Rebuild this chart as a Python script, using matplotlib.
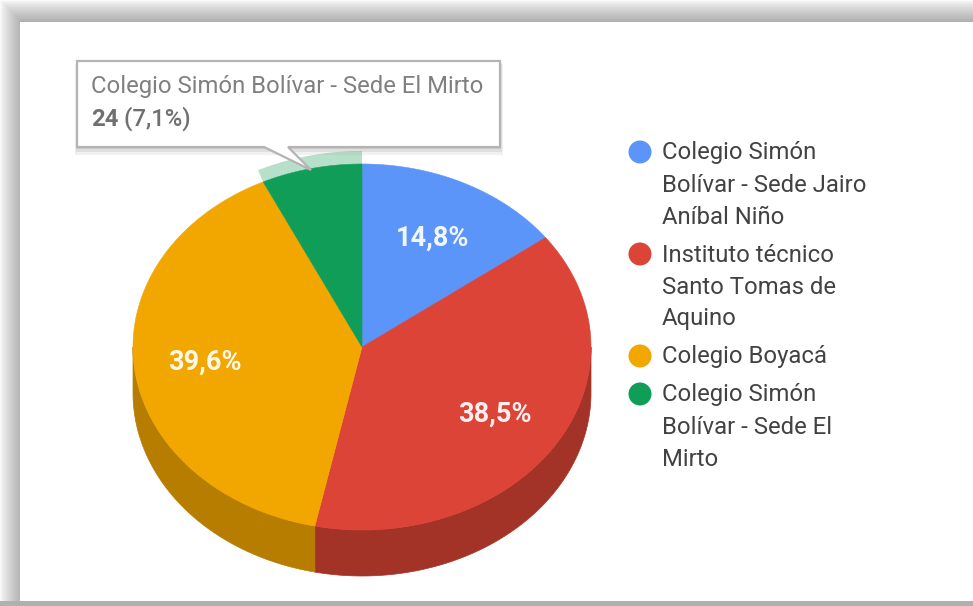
import numpy as np
import matplotlib
matplotlib.use("Agg")
import matplotlib.pyplot as plt
from matplotlib.patches import Polygon, Circle, Rectangle

plt.rcParams["font.family"] = ["Roboto", "DejaVu Sans"]

# data
schools = [
    "Colegio Simón\nBolívar - Sede Jairo\nAníbal Niño",
    "Instituto técnico\nSanto Tomas de\nAquino",
    "Colegio Boyacá",
    "Colegio Simón\nBolívar - Sede El\nMirto",
]
shares = [14.8, 38.5, 39.6, 7.1]
pct_labels = ["14,8%", "38,5%", "39,6%", ""]
tooltip_title = "Colegio Simón Bolívar - Sede El Mirto"
tooltip_value = "24"
tooltip_pct = " (7,1%)"

colors = ["#5b95f9", "#db4437", "#f2a600", "#0f9d58"]
dark_colors = ["#406aae", "#a33327", "#b77d00", "#0b6e3e"]

W, H = 973, 606
CX, CY = 362, 347
RX, RY = 229, 183
DEPTH = 46

fig = plt.figure(figsize=(W / 100, H / 100), dpi=100)
ax = fig.add_axes([0, 0, 1, 1])
ax.set_xlim(0, W)
ax.set_ylim(H, 0)
ax.axis("off")


def rim(a0, a1, rx=RX, ry=RY, dy=0):
    # angles in degrees clockwise from the top of the pie
    t = np.radians(np.linspace(a0, a1, 200))
    return np.column_stack([CX + rx * np.sin(t), CY - ry * np.cos(t) + dy])


# page frame with its soft shadow
band = 22
for i in range(band):
    g = 0.98 - 0.29 * (i / (band - 1)) ** 0.8
    ax.add_patch(Rectangle((i, i), W - i + 5, H - i + 5, fc=str(g), ec="none", zorder=0))
ax.add_patch(Rectangle((20, 22), W, 579, fc="white", ec="none", zorder=0.5))
ax.add_patch(Rectangle((0, 601), W, 6, fc="#b0b0b0", ec="none", zorder=0.6))

# cumulative angles
edges = np.concatenate([[0], np.cumsum(shares)]) / sum(shares) * 360

# side wall, only the part of the lower half that shows
for i in range(len(shares)):
    a0, a1 = max(edges[i], 90), min(edges[i + 1], 270)
    if a1 <= a0:
        continue
    top = rim(a0, a1)
    low = rim(a0, a1, dy=DEPTH)[::-1]
    ax.add_patch(Polygon(np.vstack([top, low]), fc=dark_colors[i], ec=dark_colors[i], lw=0.5, zorder=1))

# highlight ring of the hovered slice
outer = rim(edges[3], edges[4], RX + 12, RY + 13)
inner = rim(edges[3], edges[4])[::-1]
ax.add_patch(Polygon(np.vstack([outer, inner]), fc="#b7e0ca", ec="none", zorder=1))

# top face
for i in range(len(shares)):
    pts = np.vstack([[CX, CY], rim(edges[i], edges[i + 1])])
    ax.add_patch(Polygon(pts, fc=colors[i], ec=colors[i], lw=0.4, zorder=2))

# percent labels
for i, lab in enumerate(pct_labels):
    if not lab:
        continue
    mid = np.radians((edges[i] + edges[i + 1]) / 2)
    x = CX + 0.69 * RX * np.sin(mid)
    y = CY - 0.67 * RY * np.cos(mid) + 1
    ax.text(x, y, lab, color="white", fontsize=19.5, fontweight="bold", ha="center", va="center", alpha=0.92, zorder=3)

# legend
legend_y = [152, 254, 356, 394]
for name, col, y0 in zip(schools, colors, legend_y):
    ax.add_patch(Circle((640, y0), 11.5, fc=col, ec="none", zorder=3))
    for k, line in enumerate(name.split("\n")):
        ax.text(662, y0 + 1 + k * 32, line, color="#424242", fontsize=17.2, ha="left", va="center", zorder=3)

# tooltip with shadow and pointer
for off, alpha in [(5, 0.12), (3, 0.18), (1.5, 0.25)]:
    ax.add_patch(Rectangle((77 - off / 2, 61 + off / 2), 423 + off, 86 + off, fc="#909090", ec="none", alpha=alpha, zorder=4))
box = [(77, 61), (500, 61), (500, 147), (288, 147), (311, 170), (264, 147), (77, 147)]
ax.add_patch(Polygon(box, closed=True, fc="white", ec="#b4b4b4", lw=1.6, zorder=5))
ax.text(91, 87, tooltip_title, color="#808080", fontsize=17.2, ha="left", va="center", zorder=6)
val = ax.text(91, 119, tooltip_value, color="#707070", fontsize=17.2, fontweight="bold", ha="left", va="center", zorder=6)
fig.canvas.draw()
bb = val.get_window_extent()
ax.text(91 + bb.width, 119, tooltip_pct, color="#707070", fontsize=17.2, fontweight="medium", ha="left", va="center", zorder=6)

fig.savefig("out.png", dpi=100)
